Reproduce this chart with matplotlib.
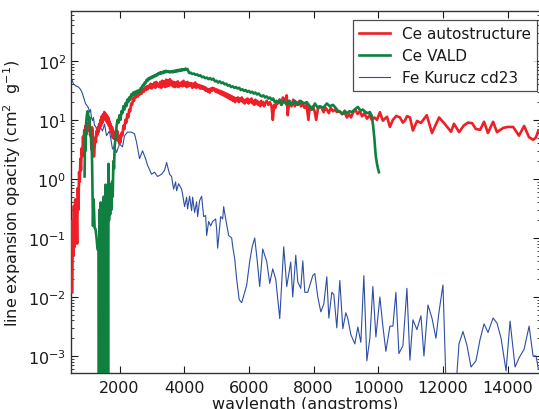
import matplotlib
matplotlib.use("Agg")
import matplotlib.pyplot as plt

# ---------------- data ----------------
red_wl = [540, 555, 570, 590, 610, 630, 650, 670, 690, 710, 730, 750, 770, 790, 810, 830, 850, 870, 890,
          910, 930, 950, 970, 990, 1010, 1030, 1050, 1070, 1090, 1110, 1130, 1150, 1170, 1190, 1210, 1230,
          1250, 1270, 1290, 1310, 1330, 1350, 1370, 1390, 1410, 1430, 1450, 1470, 1490, 1510, 1530, 1550,
          1570, 1590, 1610, 1630, 1650, 1670, 1690, 1710, 1730, 1750, 1770, 1790, 1810, 1830, 1850, 1870,
          1890, 1910, 1930, 1950, 1970, 1990, 2010, 2030, 2060, 2090, 2120, 2150, 2180, 2210, 2240, 2270,
          2300, 2330, 2360, 2390, 2420, 2450, 2480, 2510, 2540, 2570, 2600, 2630, 2660, 2690, 2720, 2750,
          2780, 2810, 2840, 2870, 2900, 2930, 2960, 2990, 3020, 3050, 3080, 3110, 3140, 3170, 3200, 3230,
          3260, 3290, 3320, 3350, 3380, 3410, 3440, 3470, 3500, 3530, 3560, 3590, 3620, 3650, 3680, 3710,
          3740, 3770, 3800, 3830, 3860, 3890, 3920, 3950, 3980, 4010, 4040, 4070, 4100, 4130, 4160, 4190,
          4220, 4250, 4280, 4310, 4340, 4370, 4400, 4430, 4460, 4490, 4520, 4550, 4580, 4610, 4640, 4670,
          4700, 4730, 4760, 4790, 4820, 4850, 4880, 4910, 4940, 4970, 5000, 5030, 5060, 5090, 5120, 5150,
          5180, 5210, 5240, 5270, 5300, 5330, 5360, 5390, 5420, 5450, 5480, 5510, 5540, 5570, 5600, 5630,
          5660, 5690, 5720, 5750, 5780, 5810, 5840, 5870, 5900, 5930, 5960, 5990, 6020, 6050, 6080, 6110,
          6140, 6170, 6200, 6230, 6260, 6290, 6320, 6350, 6380, 6410, 6440, 6470, 6500, 6550, 6600, 6650,
          6700, 6740, 6780, 6820, 6860, 6900, 6950, 7000, 7050, 7100, 7170, 7200, 7250, 7320, 7370, 7420,
          7470, 7510, 7560, 7610, 7660, 7720, 7780, 7840, 7880, 7930, 7975, 8030, 8080, 8130, 8180, 8250,
          8310, 8370, 8410, 8470, 8530, 8600, 8660, 8720, 8810, 8880, 8950, 9030, 9100, 9160, 9210, 9290,
          9360, 9430, 9500, 9570, 9650, 9730, 9800, 9880, 9960, 10050, 10140, 10270, 10360, 10450, 10560,
          10670, 10760, 10820, 10890, 10980, 11070, 11200, 11320, 11500, 11660, 11880, 12060, 12250, 12340,
          12500, 12640, 12770, 12900, 13020, 13150, 13270, 13390, 13550, 13670, 13860, 14000, 14170, 14350,
          14510, 14660, 14790, 14870, 14950]
red_val = [0.012, 0.2, 0.05, 0.35, 0.07, 0.45, 0.1, 0.3, 0.08, 0.7, 0.3, 1.3, 0.9, 2.2, 1.4, 3.3, 2.4, 5.2, 3.8,
           6.8, 4.8, 8.0, 5.6, 8.5, 6.5, 9.0, 7.0, 8.2, 5.5, 6.5, 3.2, 7.5, 6.0, 4.5, 2.4, 3.5,
           5.0, 4.2, 6.5, 5.5, 7.5, 6.2, 8.5, 7.2, 10.0, 8.0, 11.5, 9.0, 12.5, 10.0, 13.6, 10.5,
           12.8, 9.5, 12.0, 8.8, 11.0, 8.0, 9.5, 7.0, 8.5, 6.0, 7.5, 5.0, 6.5, 4.8, 6.0, 4.5,
           6.0, 5.0, 6.5, 4.5, 5.5, 4.0, 5.0, 4.2, 6.0, 5.5, 8.0, 7.0, 10.0, 9.0, 12.5, 11.0,
           15.0, 14.0, 19.0, 18.0, 23.0, 21.0, 26.0, 24.0, 28.0, 25.0, 30.0, 27.0, 31.0, 28.0, 33.0, 30.0,
           35.0, 32.0, 37.0, 33.0, 38.0, 35.0, 41.0, 34.0, 40.0, 36.0, 43.0, 35.0, 44.0, 37.0, 41.0, 36.0,
           44.0, 35.0, 46.0, 37.0, 45.0, 36.0, 48.0, 37.0, 47.0, 38.0, 49.0, 39.0, 45.0, 37.0, 44.0, 36.0,
           43.0, 37.0, 45.0, 36.0, 42.0, 38.0, 44.0, 37.0, 46.0, 38.0, 43.0, 36.0, 44.0, 37.0, 42.0, 38.0,
           42.0, 35.0, 41.0, 36.0, 43.0, 35.0, 40.0, 36.0, 39.0, 34.0, 38.0, 34.0, 37.0, 33.0, 36.0, 31.0,
           34.0, 30.0, 33.0, 29.0, 34.0, 31.0, 35.0, 32.0, 34.0, 30.0, 33.0, 29.0, 32.0, 28.0, 31.0, 27.0,
           30.0, 26.0, 29.0, 25.0, 28.0, 24.0, 27.0, 23.0, 26.0, 22.0, 25.0, 21.0, 24.0, 20.0, 23.0, 21.0,
           24.0, 20.0, 23.0, 21.0, 24.0, 20.0, 22.0, 19.0, 22.0, 20.0, 23.0, 19.0, 22.0, 20.0, 23.0, 19.0,
           21.0, 18.0, 22.0, 19.0, 21.0, 18.0, 20.0, 17.0, 21.0, 18.0, 20.0, 17.0, 19.0, 21.0, 18.0, 20.0,
           17.0, 10.0, 18.0, 16.0, 20.0, 19.0, 22.0, 18.0, 24.0, 20.0, 26.0, 12.0, 21.0, 17.0, 22.0, 17.0,
           20.0, 18.0, 21.0, 17.0, 19.0, 16.0, 18.0, 10.0, 17.0, 15.0, 17.0, 14.0, 10.0, 15.0, 17.0, 16.0,
           13.5, 16.0, 15.0, 13.0, 16.0, 14.0, 15.0, 13.6, 14.0, 12.5, 13.6, 11.0, 12.5, 11.0, 13.0, 15.0,
           12.6, 14.0, 11.5, 13.0, 10.5, 12.0, 10.0, 11.0, 10.0, 13.5, 9.7, 11.3, 7.6, 10.0, 11.7,
           11.0, 9.0, 9.7, 11.6, 11.0, 6.6, 9.6, 8.9, 12.0, 6.0, 11.0, 8.5, 6.3, 8.6,
           6.2, 8.0, 9.0, 8.8, 7.0, 6.8, 9.3, 6.0, 9.3, 6.2, 7.3, 7.6, 7.6, 5.4,
           7.9, 5.1, 4.6, 5.0, 6.6]

green_wl = [920, 935, 950, 970, 990, 1010, 1030, 1050, 1070, 1090, 1110, 1130, 1150, 1165, 1180, 1200,
            1230, 1260, 1290, 1320, 1350, 1365, 1380, 1395, 1410, 1420, 1435, 1450, 1465, 1480, 1495, 1510,
            1525, 1540, 1555, 1570, 1585, 1600, 1615, 1630, 1645, 1660, 1675, 1690, 1710, 1730, 1750, 1770,
            1790, 1810, 1830, 1850, 1880, 1910, 1940, 1970, 2000, 2030, 2060, 2090, 2120, 2150, 2180, 2210,
            2240, 2270, 2300, 2330, 2360, 2390, 2420, 2450, 2480, 2510, 2540, 2570, 2600, 2630, 2660, 2690,
            2720, 2750, 2780, 2810, 2840, 2870, 2900, 2930, 2960, 2990, 3020, 3050, 3080, 3110, 3140, 3170,
            3200, 3230, 3260, 3290, 3320, 3350, 3380, 3410, 3440, 3470, 3500, 3530, 3560, 3590, 3620, 3650,
            3680, 3710, 3740, 3770, 3800, 3830, 3860, 3890, 3920, 3950, 3980, 4010, 4040, 4070, 4100, 4130,
            4160, 4200, 4250, 4300, 4350, 4400, 4450, 4500, 4550, 4600, 4650, 4700, 4750, 4800, 4850, 4900,
            4950, 5000, 5050, 5100, 5150, 5200, 5250, 5300, 5350, 5400, 5450, 5500, 5550, 5600, 5650, 5700,
            5750, 5800, 5850, 5900, 5950, 6000, 6050, 6100, 6150, 6200, 6250, 6300, 6350, 6400, 6450, 6500,
            6550, 6600, 6650, 6700, 6750, 6800, 6850, 6900, 6950, 7010, 7080, 7170, 7250, 7320, 7420, 7510,
            7600, 7700, 7790, 7880, 7960, 8040, 8130, 8200, 8300, 8410, 8500, 8600, 8680, 8750, 8830, 8900,
            8960, 9030, 9110, 9180, 9270, 9370, 9450, 9520, 9600, 9680, 9740, 9800, 9840, 9880, 9920, 9960,
            9990, 10020]
green_val = [1.1, 6.0, 3.0, 9.0, 12.0, 14.0, 12.5, 10.0, 11.0, 7.0, 5.5, 4.8, 2.2, 0.67, 0.16, 0.45,
             0.15, 0.14, 0.1, 0.065, 0.06, 1e-4, 0.3, 1e-4, 0.002, 0.4, 1e-4, 0.35, 1e-4, 0.3, 1e-4, 0.5,
             1e-4, 0.3, 1e-4, 0.8, 1e-4, 0.25, 1e-4, 0.4, 1e-4, 1.8, 0.2, 0.7, 0.25, 0.8, 0.3, 0.9,
             0.5, 2.0, 1.5, 3.6, 5.0, 8.0, 10.0, 9.0, 12.0, 10.0, 14.0, 13.0, 17.0, 15.0, 19.0, 17.0,
             22.0, 20.0, 24.0, 22.0, 27.0, 25.0, 29.0, 27.0, 30.0, 28.0, 31.0, 29.0, 32.0, 30.0, 35.0, 34.0,
             39.0, 38.0, 43.0, 42.0, 48.0, 46.0, 51.0, 49.0, 53.0, 51.0, 55.0, 53.0, 57.0, 55.0, 59.0, 57.0,
             62.0, 60.0, 64.0, 61.0, 65.0, 62.0, 67.0, 64.0, 68.0, 65.0, 67.0, 64.0, 66.0, 64.0, 67.0, 64.0,
             68.0, 65.0, 69.0, 66.0, 70.0, 67.0, 71.0, 68.0, 72.0, 69.0, 72.0, 70.0, 74.0, 71.0, 73.0, 66.0,
             62.0, 63.0, 60.0, 61.0, 58.0, 59.0, 56.0, 57.0, 53.0, 54.0, 51.0, 52.0, 49.0, 51.0, 48.0, 50.0,
             45.0, 46.0, 43.0, 45.0, 42.0, 43.0, 40.0, 41.0, 38.0, 39.0, 36.0, 37.0, 35.0, 36.0, 34.0, 35.0,
             32.0, 33.0, 31.0, 32.0, 30.0, 31.0, 29.0, 30.0, 28.0, 29.0, 27.0, 28.0, 26.0, 25.0, 26.0, 24.0,
             25.0, 23.0, 24.0, 22.0, 23.0, 20.0, 21.0, 20.0, 22.0, 18.0, 21.0, 18.0, 21.0, 18.0, 21.0, 18.0,
             21.0, 19.0, 20.0, 17.0, 15.0, 19.0, 16.0, 17.0, 16.0, 19.0, 17.0, 18.0, 16.0, 14.3, 13.5, 12.6,
             14.3, 13.0, 14.0, 13.6, 15.0, 16.6, 14.3, 15.0, 13.6, 13.0, 13.6, 11.7, 8.0, 4.8, 2.5, 1.8,
             1.5, 1.3]

blue_wl = [500, 514, 576, 638, 731, 793, 854, 947, 1009, 1040,
           1071, 1102, 1133, 1164, 1195, 1226, 1257, 1319, 1381, 1474,
           1536, 1598, 1690, 1783, 1845, 1907, 2000, 2093, 2155, 2248,
           2372, 2464, 2526, 2619, 2712, 2805, 2867, 2991, 3084, 3176,
           3300, 3393, 3455, 3548, 3610, 3672, 3734, 3765, 3827, 3920,
           3950, 4012, 4074, 4105, 4167, 4229, 4260, 4322, 4384, 4415,
           4477, 4539, 4601, 4663, 4694, 4756, 4817, 4879, 4972, 5003,
           5034, 5127, 5189, 5220, 5282, 5375, 5468, 5498, 5560, 5622,
           5700, 5777, 5850, 5932, 6025, 6100, 6180, 6260, 6334, 6427,
           6551, 6644, 6737, 6830, 6954, 7077, 7170, 7294, 7356, 7449,
           7511, 7604, 7666, 7728, 7820, 7975, 8037, 8130, 8223, 8316,
           8409, 8471, 8564, 8626, 8718, 8811, 8904, 8997, 9059, 9152,
           9276, 9368, 9461, 9554, 9647, 9740, 9833, 9926, 10050, 10142,
           10235, 10359, 10452, 10545, 10638, 10762, 10886, 10978, 11071, 11195,
           11319, 11412, 11536, 11660, 11783, 11876, 12000, 12124, 12402, 12495,
           12619, 12743, 12867, 13021, 13146, 13269, 13393, 13548, 13672, 13796,
           13951, 14074, 14229, 14353, 14508, 14663, 14786, 14879, 14950]
blue_val = [68, 50, 41, 38, 36, 33, 28, 19, 17, 16,
            13.5, 15, 11, 9.7, 11, 8, 7.9, 6.2, 7.9, 6.5,
            8.5, 5.4, 6.5, 3.2, 3.6, 2.8, 3.9, 3.5, 5.4, 6.2,
            6.2, 5.8, 4.2, 2.2, 3.0, 2.2, 1.7, 1.2, 1.3, 1.1,
            1.2, 1.4, 1.9, 1.2, 1.1, 0.67, 0.89, 0.63, 0.83, 0.67,
            0.55, 0.34, 0.49, 0.31, 0.51, 0.29, 0.49, 0.27, 0.41, 0.23,
            0.43, 0.51, 0.23, 0.24, 0.11, 0.19, 0.16, 0.19, 0.21, 0.14,
            0.067, 0.23, 0.21, 0.34, 0.21, 0.11, 0.10, 0.072, 0.045, 0.02,
            0.009, 0.008, 0.011, 0.016, 0.04, 0.07, 0.1, 0.04, 0.015, 0.065,
            0.04, 0.017, 0.03, 0.02, 0.0043, 0.071, 0.015, 0.039, 0.010, 0.051,
            0.018, 0.014, 0.041, 0.012, 0.012, 0.023, 0.025, 0.010, 0.0056, 0.0076,
            0.022, 0.0044, 0.012, 0.011, 0.0030, 0.019, 0.0029, 0.0054, 0.0043, 0.0023,
            0.0016, 0.0031, 0.0017, 0.023, 0.00083, 0.0020, 0.015, 0.0021, 0.010, 0.0032,
            0.0012, 0.0032, 0.0032, 0.012, 0.0011, 0.0015, 0.014, 0.00085, 0.0041, 0.0028,
            0.0048, 0.0010, 0.0073, 0.0044, 0.0020, 0.0055, 0.016, 0.0001, 0.0003, 0.0016,
            0.0026, 0.0015, 0.00065, 0.00083, 0.0019, 0.0035, 0.0025, 0.0044, 0.0036, 0.0020,
            0.00056, 0.0039, 0.00065, 0.00093, 0.0013, 0.0032, 0.0010, 0.0010, 0.0006]

labels = ["Ce autostructure", "Ce VALD", "Fe Kurucz cd23"]
xticks = [2000, 4000, 6000, 8000, 10000, 12000, 14000]

# ---------------- plot ----------------
txt = '#1a1a1a'
plt.rcParams['font.family'] = ['DejaVu Sans']
plt.rcParams['font.size'] = 11.5
plt.rcParams['text.color'] = txt
plt.rcParams['axes.labelcolor'] = txt
plt.rcParams['xtick.color'] = txt
plt.rcParams['ytick.color'] = txt

fig = plt.figure(figsize=(5.39, 4.10), dpi=100)
ax = fig.add_axes([71/539, 36/410, 469/539, 362/410])

ax.plot(red_wl, red_val, color='#ee1f26', lw=1.9, label=labels[0], zorder=3)
ax.plot(green_wl, green_val, color='#0f8040', lw=1.9, label=labels[1], zorder=4)
ax.plot(blue_wl, blue_val, color='#2d4ea3', lw=0.8, label=labels[2], zorder=2)

ax.set_yscale('log')
ax.set_xlim(500, 15000)
ax.set_ylim(5.15e-4, 7.0e2)
ax.set_xticks(xticks)
ax.set_xticklabels([str(t) for t in xticks])

ax.tick_params(which='both', direction='in', top=True, right=True, labelsize=11.5)
ax.tick_params(which='major', length=5, width=0.8)
ax.tick_params(which='minor', length=2.5, width=0.6)
ax.tick_params(axis='x', pad=5)
for s in ax.spines.values():
    s.set_color('#333333')
    s.set_linewidth(1.0)

ax.set_xlabel('wavlength (angstroms)', fontsize=11.5, labelpad=1)
ax.set_ylabel(r'line expansion opacity (cm$^2$  g$^{-1}$)', fontsize=11.5, labelpad=4)

leg = ax.legend(loc='upper right', bbox_to_anchor=(537/539, 1 - 21/410),
                bbox_transform=fig.transFigure, borderaxespad=0, fancybox=False,
                fontsize=11, handlelength=2.0, labelspacing=0.45, borderpad=0.4)
leg.get_frame().set_edgecolor('#222222')
leg.get_frame().set_linewidth(0.9)

fig.savefig('out.png', dpi=100)
